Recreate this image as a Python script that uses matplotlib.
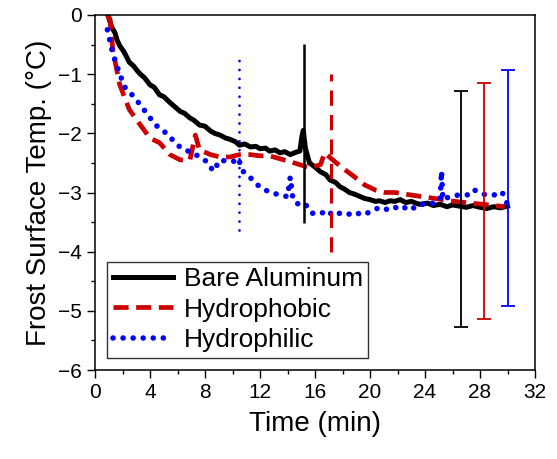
import matplotlib
matplotlib.use("Agg")
import matplotlib.pyplot as plt
from matplotlib.ticker import MultipleLocator

plt.rcParams["font.family"] = ["Liberation Sans", "DejaVu Sans"]

# Bare aluminum surface temperature
bare_t = [0.95, 1.2, 1.45, 1.6, 1.8, 2.1, 2.5, 2.8, 3.1, 3.3, 3.6, 4.0, 4.3, 4.7, 5.0,
          5.45, 5.8, 6.2, 6.5, 6.9, 7.2, 7.6, 8.0, 8.4, 8.7, 9.1, 9.5, 9.8, 10.2, 10.5,
          10.9, 11.3, 11.7, 12.0, 12.4, 12.7, 13.1, 13.45, 13.8, 14.2, 14.6, 14.9, 15.05,
          15.15, 15.3, 15.6, 16.0, 16.4, 16.8, 17.1, 17.5, 17.8, 18.2, 18.5, 18.9, 19.3,
          19.6, 20.0, 20.4, 20.7, 21.1, 21.45, 21.8, 22.2, 22.6, 23.0, 23.6, 24.2, 24.6,
          25.1, 25.6, 26.0, 26.5, 27.0, 27.5, 28.0, 28.5, 29.0, 29.5, 30.0]
bare_T = [0.0, -0.2, -0.3, -0.42, -0.52, -0.62, -0.8, -0.86, -0.95, -1.0, -1.06, -1.18,
          -1.22, -1.35, -1.38, -1.48, -1.55, -1.63, -1.66, -1.74, -1.78, -1.86, -1.88,
          -1.96, -2.0, -2.03, -2.08, -2.1, -2.14, -2.2, -2.18, -2.23, -2.22, -2.26, -2.25,
          -2.3, -2.28, -2.33, -2.31, -2.36, -2.32, -2.3, -2.05, -1.95, -2.25, -2.5, -2.57,
          -2.65, -2.7, -2.79, -2.83, -2.9, -2.95, -3.0, -3.03, -3.07, -3.1, -3.12, -3.15,
          -3.14, -3.17, -3.14, -3.15, -3.12, -3.17, -3.15, -3.2, -3.18, -3.22, -3.2, -3.24,
          -3.21, -3.23, -3.25, -3.22, -3.25, -3.27, -3.24, -3.26, -3.23]

# Hydrophobic surface temperature
phob_t = [0.9, 1.1, 1.3, 1.8, 2.5, 3.3, 4.0, 4.7, 5.45, 6.2, 6.9, 7.3, 7.6, 8.4, 9.1,
          9.8, 10.5, 11.3, 12.0, 12.7, 13.45, 14.2, 14.9, 15.6, 16.4, 16.7, 17.45, 18.2,
          18.9, 19.6, 20.4, 21.1, 21.8, 22.9, 24.4, 25.8, 27.3, 28.7, 29.8]
phob_T = [0.0, -0.08, -0.6, -1.18, -1.6, -1.86, -2.08, -2.16, -2.36, -2.45, -2.45, -2.03,
          -2.28, -2.36, -2.4, -2.4, -2.36, -2.36, -2.38, -2.38, -2.43, -2.48, -2.53,
          -2.58, -2.53, -2.33, -2.48, -2.62, -2.74, -2.87, -2.96, -3.0, -3.0, -3.04,
          -3.09, -3.14, -3.18, -3.21, -3.24]

# Hydrophilic surface temperature
phil_t = [0.9, 1.24, 1.5, 1.9, 2.2, 2.7, 3.3, 3.85, 4.4, 4.9, 5.45, 6.0, 6.5, 7.05, 7.6,
          8.15, 8.6, 9.1, 9.7, 10.2, 10.4, 10.8, 11.3, 11.8, 12.4, 12.9, 13.45, 14.0,
          14.2, 14.4, 14.9, 15.3, 15.8, 16.4, 16.9, 17.3, 17.8, 18.3, 18.9, 19.4, 20.0,
          20.7, 21.45, 22.2, 22.9, 23.6, 24.4, 25.1, 25.2, 25.3, 25.8, 26.5, 27.3, 27.6,
          28.4, 29.1, 29.6, 30.0]
phil_T = [-0.25, -0.6, -0.8, -1.06, -1.23, -1.35, -1.52, -1.69, -1.86, -1.94, -2.06, -2.2,
          -2.28, -2.32, -2.4, -2.48, -2.64, -2.45, -2.48, -2.47, -2.42, -2.65, -2.75,
          -2.87, -2.96, -3.01, -3.04, -3.07, -2.74, -3.12, -3.22, -3.2, -3.35, -3.36,
          -3.3, -3.39, -3.35, -3.38, -3.33, -3.38, -3.33, -3.25, -3.3, -3.22, -3.3,
          -3.2, -3.2, -3.12, -2.64, -3.12, -3.07, -3.04, -3.04, -2.96, -3.04, -3.04,
          -2.99, -3.2]

# vertical markers: time, low, high
marker_t = [15.2, 17.16, 10.47]
marker_lo = [-3.51, -4.0, -3.64]
marker_hi = [-0.49, -1.0, -0.69]

# error bars at the end: time, mean, half range
err_t = [26.65, 28.3, 30.0]
err_mean = [-3.28, -3.14, -2.92]
err_half = [2.0, 1.99, 1.99]

colors = ["black", "#cc0000", "blue"]

fig = plt.figure(figsize=(5.57, 4.59), dpi=100)
ax = fig.add_axes([95 / 557, 1 - 370 / 459, 440 / 557, 355 / 459])

ax.plot(bare_t, bare_T, color=colors[0], lw=3.6, label="Bare Aluminum")
ax.plot(phob_t, phob_T, color=colors[1], lw=3.4, dashes=(3.2, 1.6), label="Hydrophobic")
ax.plot(phil_t, phil_T, color=colors[2], lw=4.0, dashes=(0.01, 1.8),
        dash_capstyle="round", label="Hydrophilic")

ax.vlines(marker_t[0], marker_lo[0], marker_hi[0], color=colors[0], lw=1.8)
ax.vlines(marker_t[1], marker_lo[1], marker_hi[1], color=colors[1], lw=2.2,
          linestyles=(0, (5, 3)))
ax.vlines(marker_t[2], marker_lo[2], marker_hi[2], color=colors[2], lw=2.0,
          linestyles=(0, (0.01, 3.2)), capstyle="round")

for t, m, h, c in zip(err_t, err_mean, err_half, colors):
    ax.errorbar(t, m, yerr=h, color=c, lw=1.3, capsize=5, capthick=1.3, fmt="none")

ax.set_xlim(0, 32)
ax.set_ylim(-6, 0)
ax.xaxis.set_major_locator(MultipleLocator(4))
ax.xaxis.set_minor_locator(MultipleLocator(2))
ax.yaxis.set_major_locator(MultipleLocator(1))
ax.yaxis.set_minor_locator(MultipleLocator(0.5))
ax.tick_params(which="major", direction="out", length=6, width=1, labelsize=15)
ax.tick_params(which="minor", direction="out", length=3, width=1)
for s in ax.spines.values():
    s.set_linewidth(1.1)

ax.set_xlabel("Time (min)", fontsize=20, labelpad=6)
ax.set_ylabel("Frost Surface Temp. (\u00b0C)", fontsize=20, labelpad=4)

leg = ax.legend(loc="lower left", bbox_to_anchor=(0.028, 0.035), fontsize=19,
                frameon=True, fancybox=False, edgecolor="black", handlelength=2.3,
                handletextpad=0.4, borderpad=0.2, labelspacing=0.25, borderaxespad=0)
leg.get_frame().set_linewidth(1.0)

fig.savefig("out.png", dpi=100)
